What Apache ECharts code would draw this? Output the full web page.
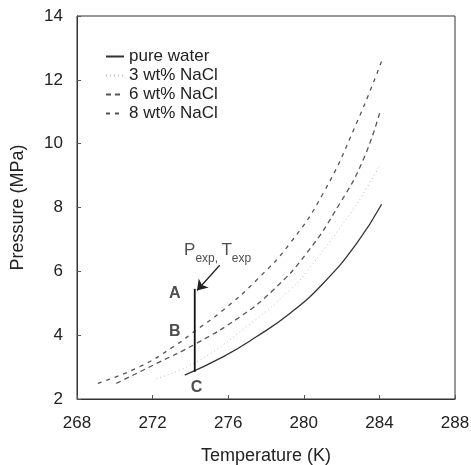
<!DOCTYPE html>
<html>
<head>
<meta charset="utf-8">
<script src="https://cdn.jsdelivr.net/npm/echarts@6/dist/echarts.min.js"></script>
<style>
  html, body { margin: 0; padding: 0; background: #fff; }
  #container { width: 471px; height: 465px; }
</style>
</head>
<body>
<div id="container"></div>
<script>
// datos (T en K, P en MPa)
var waterT = [273.7, 275.72, 277.49, 279.26, 281.02, 282.79, 284.12];
var waterP = [2.75, 3.32, 3.95, 4.68, 5.62, 6.87, 8.1];

var nacl3T = [272.2, 274.31, 276.96, 279.26, 280.14, 282.53, 283.32, 284.03];
var nacl3P = [2.64, 3.16, 4.26, 5.41, 5.98, 7.87, 8.6, 9.33];

var nacl6T = [270.08, 272.2, 274.31, 276.61, 278.37, 280.14, 281.91, 283.14, 284.03];
var nacl6P = [2.49, 3.11, 3.74, 4.57, 5.41, 6.56, 8.13, 9.49, 11.0];

var nacl8T = [269.1, 271.31, 273.08, 274.31, 275.72, 277.49, 279.26, 281.02, 282.79, 284.17];
var nacl8P = [2.49, 3.01, 3.63, 4.16, 4.78, 5.72, 6.87, 8.44, 10.64, 12.67];

var seriesNames = ['pure water', '3 wt% NaCl', '6 wt% NaCl', '8 wt% NaCl'];

// trayectoria experimental A -> C y flecha
var pathT = [274.23, 274.23];
var pathP = [2.85, 5.45];
var arrowT = [275.55, 274.35];
var arrowP = [6.19, 5.4];

var pointLabels = ['A', 'B', 'C'];
var pointLabelT = [273.17, 273.17, 274.33];
var pointLabelP = [5.31, 4.1, 2.37];

function zip(a, b) {
    return a.map(function (v, i) { return [v, b[i]]; });
}

var font = 'Liberation Sans, Arial, sans-serif';
var myChart = echarts.init(document.getElementById('container'));

var option = {
    animation: false,
    textStyle: { fontFamily: font, color: '#222' },
    grid: {
        left: 77, right: 16, top: 16, bottom: 66,
        containLabel: false,
        outerBoundsMode: 'none',
        show: true, borderColor: '#333', borderWidth: 1
    },
    legend: {
        data: seriesNames,
        orient: 'vertical',
        left: 105,
        top: 48,
        padding: 0,
        itemGap: 2,
        itemWidth: 18,
        itemHeight: 10,
        itemStyle: { opacity: 0 },
        textStyle: { fontFamily: font, fontSize: 17, color: '#222' }
    },
    xAxis: {
        type: 'value',
        min: 268, max: 288, interval: 4,
        name: 'Temperature (K)',
        nameLocation: 'middle',
        nameGap: 48,
        nameTextStyle: { fontSize: 18, color: '#222' },
        axisLine: { lineStyle: { color: '#333' } },
        axisTick: { inside: true, length: 4, lineStyle: { color: '#555' } },
        axisLabel: { fontSize: 17, color: '#222', margin: 16 },
        splitLine: { show: false }
    },
    yAxis: {
        type: 'value',
        min: 2, max: 14, interval: 2,
        name: 'Pressure (MPa)',
        nameLocation: 'middle',
        nameGap: 50,
        nameTextStyle: { fontSize: 18, color: '#222' },
        axisLine: { show: true, lineStyle: { color: '#333' } },
        axisTick: { show: true, inside: true, length: 4, lineStyle: { color: '#555' } },
        axisLabel: { fontSize: 17, color: '#222', margin: 14 },
        splitLine: { show: false }
    },
    series: [
        {
            name: 'pure water', type: 'line', smooth: true, symbol: 'none',
            data: zip(waterT, waterP),
            lineStyle: { color: '#333', width: 1.3, type: 'solid' },
            itemStyle: { color: '#333' }
        },
        {
            name: '3 wt% NaCl', type: 'line', smooth: true, symbol: 'none',
            data: zip(nacl3T, nacl3P),
            lineStyle: { color: '#bbb', width: 1, type: [1, 3] },
            itemStyle: { color: '#bbb' }
        },
        {
            name: '6 wt% NaCl', type: 'line', smooth: true, symbol: 'none',
            data: zip(nacl6T, nacl6P),
            lineStyle: { color: '#555', width: 1.3, type: [5, 4] },
            itemStyle: { color: '#555' }
        },
        {
            name: '8 wt% NaCl', type: 'line', smooth: true, symbol: 'none',
            data: zip(nacl8T, nacl8P),
            lineStyle: { color: '#555', width: 1.3, type: [4, 5] },
            itemStyle: { color: '#555' }
        },
        {
            name: 'path', type: 'line', symbol: 'none',
            data: zip(pathT, pathP),
            lineStyle: { color: '#111', width: 1.8 }
        },
        {
            name: 'arrow', type: 'lines', coordinateSystem: 'cartesian2d',
            symbol: ['none', 'arrow'], symbolSize: 10,
            lineStyle: { color: '#222', width: 1.3, opacity: 1 },
            data: [{ coords: zip(arrowT, arrowP) }]
        },
        {
            name: 'labels', type: 'scatter', symbolSize: 0,
            data: pointLabels.map(function (n, i) {
                return { name: n, value: [pointLabelT[i], pointLabelP[i]] };
            }),
            label: {
                show: true, position: 'inside', formatter: '{b}',
                fontSize: 16, fontWeight: 'bold', color: '#222', fontFamily: font
            }
        },
        {
            name: 'exp', type: 'scatter', symbolSize: 0,
            data: [[275.44, 6.66]],
            label: {
                show: true, position: 'inside',
                formatter: '{b|P}{s|exp, }{b|T}{s|exp}',
                rich: {
                    b: { fontSize: 17, lineHeight: 22, color: '#222', fontFamily: font, verticalAlign: 'middle' },
                    s: { fontSize: 12, lineHeight: 22, color: '#222', fontFamily: font, verticalAlign: 'bottom', padding: [0, 0, -3, 0] }
                }
            }
        }
    ]
};

myChart.setOption(option);
window.addEventListener('resize', myChart.resize);
</script>
</body>
</html>
